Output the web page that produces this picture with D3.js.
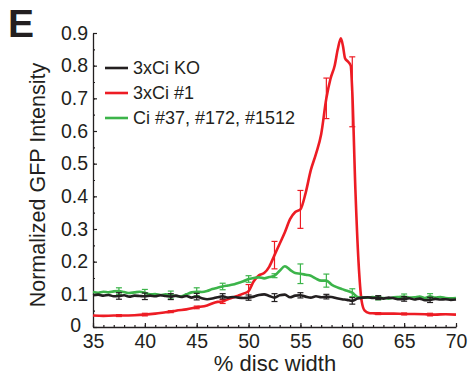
<!DOCTYPE html>
<html>
<head>
<meta charset="utf-8">
<script src="https://cdn.jsdelivr.net/npm/d3@7"></script>
<style>
  body { margin: 0; background: #fff; }
  svg text { font-family: "Liberation Sans", Arial, Helvetica, sans-serif; fill: #231f20; }
</style>
</head>
<body>
<svg id="chart"></svg>
<script>
// series sampled every 0.5 % disc width
const xs = d3.range(35, 70.001, 0.5);

const koVals = [
  0.097, 0.099, 0.096, 0.098, 0.094, 0.095, 0.097, 0.093, 0.096, 0.095,
  0.094, 0.096, 0.094, 0.097, 0.095, 0.093, 0.096, 0.092, 0.095, 0.090,
  0.093, 0.088, 0.085, 0.087, 0.091, 0.094, 0.090, 0.092, 0.090, 0.089,
  0.090, 0.093, 0.098, 0.100, 0.095, 0.090, 0.097, 0.099, 0.091, 0.096,
  0.097, 0.093, 0.090, 0.094, 0.091, 0.093, 0.092, 0.088, 0.085, 0.083,
  0.080, 0.087, 0.090, 0.091, 0.089, 0.090, 0.087, 0.090, 0.088, 0.085,
  0.086, 0.088, 0.084, 0.087, 0.082, 0.083, 0.086, 0.084, 0.085, 0.083,
  0.084
];

const ciVals = [
  0.107, 0.105, 0.108, 0.106, 0.109, 0.110, 0.107, 0.104, 0.106, 0.108,
  0.105, 0.100, 0.101, 0.098, 0.100, 0.098, 0.095, 0.094, 0.100, 0.106,
  0.108, 0.107, 0.110, 0.116, 0.120, 0.124, 0.127, 0.130, 0.135, 0.140,
  0.147, 0.150, 0.152, 0.149, 0.153, 0.157, 0.172, 0.186, 0.175, 0.165,
  0.163, 0.160, 0.157, 0.148, 0.142, 0.142, 0.130, 0.122, 0.116, 0.111,
  0.105, 0.092, 0.090, 0.090, 0.092, 0.088, 0.089, 0.087, 0.091, 0.092,
  0.093, 0.090, 0.091, 0.093, 0.089, 0.094, 0.090, 0.092, 0.089, 0.088,
  0.089
];

// red curve has a sharp peak, so it gets its own x positions
const x3Ci = [
  35, 36, 37, 37.5, 38, 39, 40, 41, 42, 42.5, 43, 44, 45, 46, 47, 47.5, 48, 48.5, 49, 49.5,
  50, 50.5, 51, 51.5, 52, 52.5, 53, 53.5, 54, 54.5, 55, 55.5, 56, 56.5, 57,
  57.5, 57.9, 58.3, 58.6, 58.9, 59.1, 59.3, 59.6, 59.85, 60, 60.3, 60.6, 60.9,
  61.2, 61.6, 62, 62.5, 63, 64, 65, 66, 67, 67.5, 68, 69, 70
];
const ci3Vals = [
  0.035, 0.034, 0.035, 0.035, 0.035, 0.036, 0.038, 0.041, 0.045, 0.047, 0.050, 0.054, 0.060, 0.066, 0.077, 0.078, 0.085, 0.090, 0.096, 0.102,
  0.110, 0.140, 0.158, 0.165, 0.185, 0.220, 0.255, 0.290, 0.330, 0.352, 0.360, 0.410, 0.480, 0.530, 0.590,
  0.700, 0.760, 0.800, 0.850, 0.884, 0.860, 0.823, 0.812, 0.800, 0.720, 0.420, 0.200, 0.080,
  0.050, 0.043, 0.042, 0.041, 0.041, 0.041, 0.040, 0.040, 0.039, 0.038, 0.038, 0.039, 0.038
];

// error bars (half widths)
const errX = [37.5, 40, 42.5, 45, 47.5, 50, 52.5, 55, 57.5, 60, 62.5, 65, 67.5];
const koErr = [0.010, 0.010, 0.009, 0.010, 0.008, 0.008, 0.012, 0.008, 0.007, 0.010, 0.006, 0.007, 0.008];
const ciErr = [0.010, 0.010, 0.012, 0.012, 0.010, 0.010, 0.006, 0.030, 0.020, 0.012, 0.005, 0.008, 0.008];
const ci3Err = [0.003, 0.004, 0.003, 0.004, 0.006, 0.020, 0.042, 0.058, 0.062, 0.107, 0.003, 0.003, 0.004];

const legendLabels = ["3xCi KO", "3xCi #1", "Ci #37, #172, #1512"];
const colors = ["#231f20", "#ed1c24", "#3cb44a"];

const xTicks = [35, 40, 45, 50, 55, 60, 65, 70];
const yTicks = [0, 0.1, 0.2, 0.3, 0.4, 0.5, 0.6, 0.7, 0.8, 0.9];

const width = 473, height = 381;
const svg = d3.select("#chart").attr("width", width).attr("height", height);

const x = d3.scaleLinear().domain([35, 70]).range([93, 456]);
const y = d3.scaleLinear().domain([0, 0.9]).range([327, 33]);

// axes (ticks point inward)
const gx = svg.append("g").attr("transform", `translate(0,${y(0)})`);
gx.call(d3.axisBottom(x).tickValues(d3.range(35, 70.001, 1)).tickSize(-2).tickFormat("").tickSizeOuter(0));
gx.call(g => g.select(".domain").remove());
const gx2 = svg.append("g").attr("transform", `translate(0,${y(0)})`);
gx2.call(d3.axisBottom(x).tickValues(xTicks).tickSize(-4).tickSizeOuter(0).tickPadding(7).tickFormat(d3.format("d")));

const gy = svg.append("g").attr("transform", `translate(${x(35)},0)`);
gy.call(d3.axisLeft(y).tickValues(d3.range(0, 0.9001, 0.05)).tickSize(-2).tickFormat("").tickSizeOuter(0));
gy.call(g => g.select(".domain").remove());
const gy2 = svg.append("g").attr("transform", `translate(${x(35)},0)`);
gy2.call(d3.axisLeft(y).tickValues(yTicks).tickSize(-4).tickSizeOuter(0).tickPadding(5)
  .tickFormat(d => d === 0 ? "0" : d3.format(".1f")(d)));

svg.selectAll(".domain").attr("stroke", "#231f20").attr("stroke-width", 1.3);
svg.selectAll(".tick line").attr("stroke", "#231f20").attr("stroke-width", 1.2);
gx2.selectAll("text").attr("font-size", 19.5).attr("fill", "#231f20");
gy2.selectAll("text").attr("font-size", 19.5).attr("fill", "#231f20");
// the "0" label sits a bit further left, clear of the "35" below it
gy2.selectAll(".tick text").filter(d => d === 0).attr("x", -12).attr("dy", "0.25em");

const line = d3.line().x(d => x(d[0])).y(d => y(d[1])).curve(d3.curveMonotoneX);

const series = [
  { xs: xs, vals: koVals, err: koErr, color: colors[0] },
  { xs: x3Ci, vals: ci3Vals, err: ci3Err, color: colors[1] },
  { xs: xs, vals: ciVals, err: ciErr, color: colors[2] }
];

// draw order: red, green, black on top
[1, 2, 0].forEach(i => {
  const s = series[i];
  const pts = s.xs.map((xv, j) => [xv, s.vals[j]]);
  svg.append("path")
    .attr("d", line(pts))
    .attr("fill", "none")
    .attr("stroke", s.color)
    .attr("stroke-width", 2.6)
    .attr("stroke-linejoin", "round");

  const eb = svg.append("g");
  errX.forEach((ex, j) => {
    const k = s.xs.findIndex(v => Math.abs(v - ex) < 1e-6);
    if (k < 0) return;
    const m = s.vals[k];
    const e = s.err[j];
    const cx = x(ex);
    eb.append("line").attr("x1", cx).attr("x2", cx).attr("y1", y(m - e)).attr("y2", y(m + e));
    eb.append("line").attr("x1", cx - 3).attr("x2", cx + 3).attr("y1", y(m - e)).attr("y2", y(m - e));
    eb.append("line").attr("x1", cx - 3).attr("x2", cx + 3).attr("y1", y(m + e)).attr("y2", y(m + e));
  });
  eb.selectAll("line").attr("stroke", s.color).attr("stroke-width", 1.2);
});

// legend
const legend = svg.append("g");
legendLabels.forEach((lab, i) => {
  const ly = 68 + i * 25;
  legend.append("line").attr("x1", 105).attr("x2", 128).attr("y1", ly).attr("y2", ly)
    .attr("stroke", colors[i]).attr("stroke-width", 2.6);
  legend.append("text").attr("x", 133).attr("y", ly + 6).attr("font-size", 18).text(lab);
});

// axis titles
svg.append("text")
  .attr("transform", `translate(45,185) rotate(-90)`)
  .attr("text-anchor", "middle")
  .attr("font-size", 21.5)
  .text("Normalized GFP Intensity");

svg.append("text")
  .attr("x", 275).attr("y", 371)
  .attr("text-anchor", "middle")
  .attr("font-size", 22)
  .text("% disc width");

// panel letter
svg.append("text")
  .attr("x", 8).attr("y", 37)
  .attr("font-size", 39)
  .attr("font-weight", "bold")
  .text("E");
</script>
</body>
</html>
